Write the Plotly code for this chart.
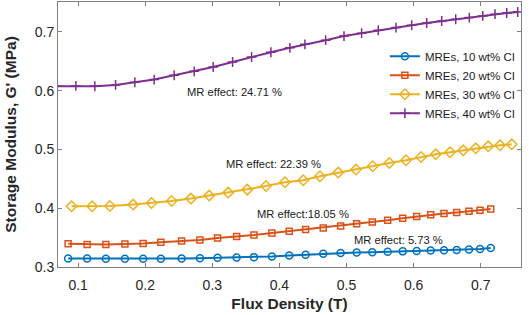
import plotly.graph_objects as go

# ---- data ----
names = ["MREs, 10 wt% CI", "MREs, 20 wt% CI", "MREs, 30 wt% CI", "MREs, 40 wt% CI"]

x_10 = [0.0851, 0.1134, 0.1413, 0.1697, 0.1969, 0.2233, 0.2542, 0.2815, 0.3078, 0.3362,
        0.3620, 0.3888, 0.4146, 0.4390, 0.4653, 0.4912, 0.5151, 0.5384, 0.5613, 0.5837,
        0.6045, 0.6254, 0.6453, 0.6642, 0.6825, 0.6989, 0.7149]
y_10 = [0.3145, 0.3143, 0.3142, 0.3141, 0.3141, 0.3142, 0.3143, 0.3150, 0.3156, 0.3163,
        0.3168, 0.3180, 0.3195, 0.3210, 0.3225, 0.3237, 0.3245, 0.3251, 0.3260, 0.3266,
        0.3272, 0.3279, 0.3285, 0.3291, 0.3298, 0.3308, 0.3325]

x_20 = list(x_10)
y_20 = [0.3395, 0.3385, 0.3384, 0.3390, 0.3400, 0.3423, 0.3443, 0.3460, 0.3492, 0.3517,
        0.3545, 0.3578, 0.3610, 0.3637, 0.3664, 0.3698, 0.3737, 0.3766, 0.3795, 0.3829,
        0.3860, 0.3890, 0.3910, 0.3928, 0.3948, 0.3965, 0.3985]

x_30 = [0.0902, 0.1209, 0.1473, 0.1820, 0.2094, 0.2393, 0.2680, 0.2953, 0.3236, 0.3520,
        0.3799, 0.4082, 0.4355, 0.4604, 0.4877, 0.5141, 0.5389, 0.5637, 0.5886, 0.6110,
        0.6329, 0.6542, 0.6740, 0.6925, 0.7113, 0.7287, 0.7462]
y_30 = [0.4033, 0.4033, 0.4038, 0.4062, 0.4089, 0.4123, 0.4164, 0.4215, 0.4266, 0.4317,
        0.4379, 0.4442, 0.4476, 0.4544, 0.4607, 0.4658, 0.4714, 0.4770, 0.4816, 0.4872,
        0.4918, 0.4952, 0.4986, 0.5020, 0.5054, 0.5071, 0.5088]

x_40 = [0.0690, 0.0966, 0.1249, 0.1558, 0.1845, 0.2133, 0.2431, 0.2730, 0.3013, 0.3302,
        0.3585, 0.3873, 0.4156, 0.4380, 0.4689, 0.4962, 0.5225, 0.5473, 0.5737, 0.5971,
        0.6195, 0.6418, 0.6627, 0.6830, 0.7030, 0.7213, 0.7387, 0.7551]
y_40 = [0.6076, 0.6081, 0.6076, 0.6098, 0.6144, 0.6190, 0.6263, 0.6331, 0.6404, 0.6489,
        0.6574, 0.6655, 0.6730, 0.6790, 0.6860, 0.6930, 0.6980, 0.7029, 0.7075, 0.7114,
        0.7153, 0.7187, 0.7216, 0.7245, 0.7273, 0.7302, 0.7323, 0.7340]

labels = ["MR effect: 24.71 %", "MR effect: 22.39 %", "MR effect:18.05 %", "MR effect: 5.73 %"]
label_x = [0.2600, 0.3175, 0.3640, 0.5080]
label_y = [0.5979, 0.4748, 0.3909, 0.3454]

x_ticks = [0.1, 0.2, 0.3, 0.4, 0.5, 0.6, 0.7]
y_ticks = [0.3, 0.4, 0.5, 0.6, 0.7]

# ---- styling ----
FONT = "Liberation Sans, Arial, sans-serif"
colors = ["#0072BD", "#D95319", "#EDB120", "#7E2F8E"]
symbols = ["circle-open", "square-open", "diamond-open", "cross-thin-open"]
msizes = [7, 6, 8, 7]

fig = go.Figure()
for xs, ys, nm, c, s, ms in zip([x_10, x_20, x_30, x_40], [y_10, y_20, y_30, y_40],
                                 names, colors, symbols, msizes):
    fig.add_trace(go.Scatter(
        x=xs, y=ys, name=nm, mode="lines+markers",
        line=dict(color=c, width=2),
        marker=dict(symbol=s, size=ms, color=c, line=dict(color=c, width=1.5)),
    ))

for t, ax, ay in zip(labels, label_x, label_y):
    fig.add_annotation(x=ax, y=ay, text=t, showarrow=False, xanchor="left",
                       yanchor="middle", font=dict(family=FONT, size=11.2, color="#1a1a1a"))

axis_common = dict(
    showline=True, linecolor="#808080", linewidth=1, mirror="ticks",
    ticks="inside", ticklen=4, tickcolor="#808080", tickwidth=1,
    showgrid=False, zeroline=False, automargin=False,
    tickfont=dict(family=FONT, size=14, color="#262626"),
)

fig.update_layout(
    width=529, height=315,
    margin=dict(l=58, r=8, t=2, b=48),
    paper_bgcolor="white", plot_bgcolor="white",
    font=dict(family=FONT, color="#262626"),
    xaxis=dict(range=[0.07, 0.76], tickvals=x_ticks, ticktext=[f"{v:.1f}" for v in x_ticks],
               ticklabelstandoff=5,
               title=dict(text="<b>Flux Density (T)</b>", standoff=6,
                          font=dict(family=FONT, size=15.5, color="#262626")),
               **axis_common),
    yaxis=dict(range=[0.3, 0.751], tickvals=y_ticks, ticktext=[f"{v:.1f}" for v in y_ticks],
               title=dict(text="<b>Storage Modulus, G' (MPa)</b>", standoff=14,
                          font=dict(family=FONT, size=15.5, color="#262626")),
               **axis_common),
    legend=dict(x=0.706, y=0.85, xanchor="left", yanchor="top",
                bgcolor="rgba(255,255,255,0)", borderwidth=0,
                font=dict(family=FONT, size=11.5, color="#1a1a1a"),
                tracegroupgap=0),
    showlegend=True,
)

fig.write_html("out.html", config={"displayModeBar": False},
               post_script="document.body.style.margin='0px';document.body.style.overflow='hidden';")
